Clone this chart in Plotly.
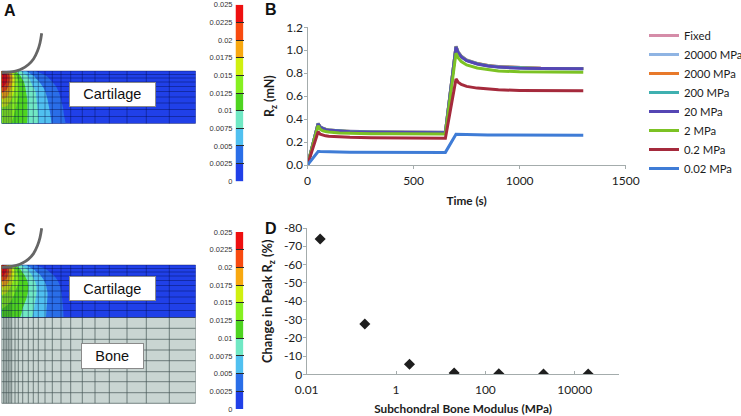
import plotly.graph_objects as go

W, H = 741, 416

# Panels A and C: finite element mesh and strain field
MESH_X = [0, 1.8, 3.5, 5.2, 6.8, 8.5, 10.2, 13.5, 16.8, 21.2, 26.8, 31.8, 36.8, 43.5,
          50.8, 59.5, 69.2, 80.8, 93.5, 107.8, 125.5, 144.8, 167.8, 194.2]
MESH_CARTILAGE = [0, 3.5, 7, 11, 15.5, 20.5, 26, 32, 38.5, 45.5, 52.5]
MESH_BONE = [52.5, 63.3, 74.3, 85, 95.7, 106.7, 116.7, 127.7, 138.3]

FIELD_X = [0, 5, 10, 15, 20, 25, 30, 35, 40, 45, 50, 55, 60, 65, 70, 80, 194.2]
FIELD_DEPTH = [0, 5, 10, 15, 20, 28, 36, 44, 52.5]
FIELD_A = [
    [.024, .020, .015, .0095, .0072, .0048, .0033, .0023, .0018, .0014, .0012, .001, .0008, .0007, .0006, .0004, .0001],
    [.0249, .0235, .0185, .0125, .0095, .0078, .0058, .0042, .0032, .0025, .002, .0016, .0013, .001, .0008, .0005, .0001],
    [.0245, .023, .0185, .0135, .0108, .0088, .0072, .0055, .0043, .0032, .0025, .002, .0016, .0013, .001, .0006, .0001],
    [.0235, .0215, .0175, .0135, .0112, .0095, .0078, .0065, .0052, .004, .0031, .0024, .0018, .0015, .0012, .0007, .0001],
    [.021, .0195, .0165, .0135, .0115, .0098, .0085, .0072, .0058, .0047, .0036, .0028, .002, .0016, .0013, .0008, .0001],
    [.0175, .017, .015, .0128, .0115, .0102, .0088, .0075, .0062, .0052, .0041, .0032, .0024, .0018, .0014, .0009, .0001],
    [.015, .0148, .0138, .0124, .0113, .0102, .009, .0077, .0065, .0055, .0045, .0035, .0027, .002, .0015, .001, .0001],
    [.0138, .0135, .013, .012, .0112, .0102, .0092, .0079, .0067, .0057, .0048, .0037, .0028, .0022, .0016, .001, .0001],
    [.013, .0128, .0125, .0118, .011, .0101, .0092, .008, .0068, .0058, .005, .0038, .003, .0024, .0017, .001, .0001],
]
FIELD_C = [
    [.024, .019, .0145, .0095, .0072, .0048, .0032, .0022, .0017, .0014, .0012, .001, .0008, .0007, .0006, .0004, .0001],
    [.0249, .0225, .0175, .0125, .0097, .008, .006, .0044, .0034, .0026, .002, .0016, .0013, .001, .0008, .0005, .0001],
    [.0235, .0215, .017, .0132, .0112, .0092, .0076, .006, .0047, .0035, .0027, .0022, .0017, .0013, .001, .0006, .0001],
    [.021, .0195, .016, .0132, .0118, .0102, .0084, .0069, .0056, .0043, .0033, .0026, .002, .0015, .0012, .0007, .0001],
    [.0185, .0175, .015, .0128, .0118, .0106, .0088, .0074, .006, .0049, .0038, .003, .0022, .0017, .0013, .0008, .0001],
    [.0155, .015, .0135, .012, .0113, .0104, .0088, .0075, .0063, .0052, .0042, .0033, .0025, .0019, .0014, .0009, .0001],
    [.0135, .0132, .0124, .0115, .0108, .0098, .0083, .0072, .0062, .0051, .0043, .0034, .0026, .002, .0015, .001, .0001],
    [.0125, .012, .0115, .0108, .0102, .0092, .008, .007, .006, .005, .0043, .0034, .0027, .0021, .0016, .001, .0001],
    [.0118, .0115, .011, .0105, .0098, .0088, .0076, .0067, .0058, .0049, .0042, .0034, .0027, .0022, .0017, .001, .0001],
]

# Indenter outline, negative depth is above the cartilage surface
INDENTER_X = [0.2, 8.5, 15, 21, 27, 32, 36, 38.5, 40.2]
INDENTER_DEPTH_A = [1.7, 1.2, -0.2, -2.5, -6.5, -12, -20, -28, -37.7]
INDENTER_DEPTH_C = [2.3, 1.8, 0.4, -1.9, -5.9, -11.4, -19.4, -27.4, -36.7]

# Colour key
LEVELS = [0, .0025, .005, .0075, .01, .0125, .015, .0175, .02, .0225, .025]
LEVEL_LABELS = ["0", "0.0025", "0.005", "0.0075", "0.01", "0.0125", "0.015", "0.0175", "0.02", "0.0225", "0.025"]
BAND_COLORS = ["#2040e8", "#2a6ee8", "#50c0f0", "#70e8c4", "#4ed420",
               "#86f020", "#d0f010", "#f8a810", "#f84a10", "#ee1010"]

# Panel B
TIME = [0, 50, 60, 70, 85, 100, 150, 200, 300, 400, 500, 650, 700, 710, 725, 750, 800, 850, 900, 1000, 1100, 1300]
RZ_FIXED = [0, .362, .332, .321, .312, .306, .297, .293, .289, .287, .286, .285, 1.035, .985, .948, .915, .885, .868, .858, .848, .844, .842]
RZ_20000 = [0, .362, .332, .321, .312, .306, .297, .293, .289, .287, .286, .285, 1.034, .985, .948, .915, .885, .868, .858, .848, .844, .842]
RZ_2000 = [0, .361, .331, .320, .311, .305, .296, .292, .288, .286, .285, .284, 1.033, .984, .947, .914, .884, .867, .857, .847, .843, .841]
RZ_200 = [0, .360, .330, .319, .310, .304, .295, .291, .287, .285, .284, .283, 1.031, .982, .945, .912, .882, .865, .855, .845, .841, .839]
RZ_20 = [0, .358, .328, .317, .308, .302, .293, .289, .285, .283, .282, .281, 1.028, .978, .942, .909, .880, .862, .853, .843, .840, .838]
RZ_2 = [0, .342, .312, .300, .292, .287, .279, .276, .273, .272, .271, .270, .975, .935, .902, .872, .845, .830, .820, .812, .809, .808]
RZ_02 = [0, .290, .268, .260, .254, .250, .244, .241, .238, .236, .235, .234, .750, .722, .702, .685, .670, .660, .655, .650, .648, .647]
RZ_002 = [0, .118, .117, .116, .115, .114, .113, .112, .111, .110, .110, .110, .268, .267, .266, .265, .263, .262, .261, .260, .259, .259]
SERIES = [
    ("Fixed", RZ_FIXED, "#d58ca8"),
    ("20000 MPa", RZ_20000, "#8fb4e3"),
    ("2000 MPa", RZ_2000, "#e8792a"),
    ("200 MPa", RZ_200, "#3fb0b0"),
    ("20 MPa", RZ_20, "#5546b4"),
    ("2 MPa", RZ_2, "#7cc224"),
    ("0.2 MPa", RZ_02, "#a52a3c"),
    ("0.02 MPa", RZ_002, "#3f7cd6"),
]

# Panel D
MODULUS = [0.02, 0.2, 2, 20, 200, 2000, 20000]
PEAK_CHANGE = [-74, -27.5, -5.5, -0.7, -0.3, -0.1, -0.1]

FONT_BOLD = "Liberation Sans"
FONT_CHART = "Lato"
AXIS_GREY = "#a4acac"
TEXT = "#1c1c1c"


def dom_x(left, right):
    return [left / W, right / W]


def dom_y(top, bottom):
    return [1 - bottom / H, 1 - top / H]


# stepped colour scale, one flat step per band
band_scale = []
for i, c in enumerate(BAND_COLORS):
    band_scale.append([i / len(BAND_COLORS), c])
    band_scale.append([(i + 1) / len(BAND_COLORS), c])


def mesh_lines(rows):
    xs, ys = [], []
    for r in rows:
        xs += [MESH_X[0], MESH_X[-1], None]
        ys += [r, r, None]
    for x in MESH_X:
        xs += [x, x, None]
        ys += [rows[0], rows[-1], None]
    return xs, ys


fig = go.Figure()


def add_field(field, depth, xa, ya):
    fig.add_trace(go.Contour(
        x=FIELD_X, y=FIELD_DEPTH, z=field, xaxis=xa, yaxis=ya,
        colorscale=band_scale, zmin=0, zmax=.025, showscale=False, showlegend=False,
        autocontour=False, contours=dict(start=0, end=.025, size=.0025, coloring="fill", showlines=False),
        line=dict(width=0), hoverinfo="skip",
    ))
    xs, ys = mesh_lines(MESH_CARTILAGE)
    fig.add_trace(go.Scatter(
        x=xs, y=ys, xaxis=xa, yaxis=ya, mode="lines", showlegend=False, hoverinfo="skip",
        line=dict(color="rgba(0,10,70,0.5)", width=0.8),
    ))
    fig.add_trace(go.Scatter(
        x=INDENTER_X, y=depth, xaxis=xa, yaxis=ya, mode="lines", showlegend=False, hoverinfo="skip",
        line=dict(color="#666666", width=2.8, shape="spline"),
    ))


def add_key(xa, ya):
    fig.add_trace(go.Heatmap(
        x=[0, 1], y=LEVELS, z=[[(LEVELS[i] + LEVELS[i + 1]) / 2] for i in range(10)],
        xaxis=xa, yaxis=ya, colorscale=band_scale, zmin=0, zmax=.025,
        showscale=False, showlegend=False, hoverinfo="skip",
    ))


# panel A
add_field(FIELD_A, INDENTER_DEPTH_A, "x", "y")
add_key("x2", "y2")

# panel B, stiffest first so the softer curves land on top
for name, values, color in SERIES:
    fig.add_trace(go.Scatter(
        x=TIME, y=values, name=name, xaxis="x3", yaxis="y3", mode="lines",
        line=dict(color=color, width=3),
    ))

# panel C
xs, ys = mesh_lines(MESH_BONE)
fig.add_trace(go.Scatter(
    x=xs, y=ys, xaxis="x4", yaxis="y4", mode="lines", showlegend=False, hoverinfo="skip",
    line=dict(color="rgba(70,85,85,0.7)", width=1),
))
add_field(FIELD_C, INDENTER_DEPTH_C, "x4", "y4")
add_key("x5", "y5")

# panel D
fig.add_trace(go.Scatter(
    x=MODULUS, y=PEAK_CHANGE, xaxis="x6", yaxis="y6", mode="markers", showlegend=False,
    marker=dict(symbol="diamond", size=8.5, color="#1e1e1e"),
))

hidden = dict(visible=False, fixedrange=True)
key_y = dict(
    range=[0, .025], tickvals=LEVELS, ticktext=LEVEL_LABELS, ticks="inside", ticklen=8, tickwidth=1,
    tickcolor="#2a2a2a", tickfont=dict(family=FONT_BOLD, size=7.5, color="#333333"), ticklabelstandoff=2,
    showgrid=False, zeroline=False, showline=False,
)
chart_x = dict(
    showgrid=False, zeroline=False, showline=True, linecolor=AXIS_GREY, linewidth=1,
    tickcolor=AXIS_GREY, ticklen=3, tickfont=dict(family=FONT_CHART, size=12, color=TEXT),
)
chart_y = dict(
    showgrid=False, zeroline=False, showline=True, linecolor=AXIS_GREY, linewidth=1, ticks="outside",
    tickcolor=AXIS_GREY, ticklen=3, tickfont=dict(family=FONT_CHART, size=12, color=TEXT),
)


def title(text, standoff=6, size=11.8):
    return dict(text=f"<b>{text}</b>", font=dict(family=FONT_CHART, size=size, color=TEXT), standoff=standoff)


fig.update_layout(
    width=W, height=H,
    margin=dict(l=0, r=0, t=0, b=0, autoexpand=False),
    paper_bgcolor="white", plot_bgcolor="white",
    font=dict(family=FONT_CHART, color=TEXT),
    xaxis=dict(domain=dom_x(1.5, 195.7), range=[0, 194.2], **hidden),
    yaxis=dict(domain=dom_y(31, 125), range=[54, -40], **hidden),
    xaxis2=dict(domain=dom_x(235.5, 243.3), range=[0, 1], anchor="y2", **hidden),
    yaxis2=dict(domain=dom_y(4.7, 181.3), anchor="x2", **key_y),
    xaxis3=dict(domain=dom_x(307.5, 625.7), range=[0, 1500], anchor="y3", ticks="outside", ticklabelstandoff=2,
                tickvals=[0, 500, 1000, 1500], title=title("Time (s)", 9), **chart_x),
    yaxis3=dict(domain=dom_y(27.3, 165), range=[0, 1.2], anchor="x3", tickvals=[0, .2, .4, .6, .8, 1, 1.2],
                tickformat=".1f", ticklabelstandoff=-2, title=title("R<sub>z</sub> (mN)", 8, 12.5), **chart_y),
    xaxis4=dict(domain=dom_x(1.5, 195.7), range=[0, 194.2], anchor="y4", **hidden),
    yaxis4=dict(domain=dom_y(225, 404.5), range=[139.5, -40], anchor="x4", **hidden),
    xaxis5=dict(domain=dom_x(235.5, 243.3), range=[0, 1], anchor="y5", **hidden),
    yaxis5=dict(domain=dom_y(232, 409), anchor="x5", **key_y),
    xaxis6=dict(domain=dom_x(306.7, 619.4), type="log", range=[-2, 5], anchor="y6", ticks="inside", ticklabelstandoff=4,
                tickvals=[0.01, 1, 100, 10000], ticktext=["0.01", "1", "100", "10000"],
                title=title("Subchondral Bone Modulus (MPa)", 10), **chart_x),
    yaxis6=dict(domain=dom_y(228, 374.3), range=[0, -80], anchor="x6",
                tickvals=[-80, -70, -60, -50, -40, -30, -20, -10, 0],
                ticktext=["-80", "-70", "-60", "-50", "-40", "-30", "-20", "-10", "0"],
                ticklabelstandoff=-2, title=title("Change in Peak R<sub>z</sub> (%)", 8, 12.8), **chart_y),
    legend=dict(x=644 / W, y=1 - 21 / H, xanchor="left", yanchor="top", bgcolor="rgba(0,0,0,0)",
                font=dict(family=FONT_CHART, size=11.3, color=TEXT), itemwidth=30, traceorder="normal"),
    shapes=[dict(type="rect", xref="x4", yref="y4", x0=MESH_X[0], x1=MESH_X[-1],
                 y0=MESH_BONE[0], y1=MESH_BONE[-1], fillcolor="#c9d5d2", line=dict(width=0), layer="below")],
)

# panel letters
for letter, px, py in [("A", 2, 10), ("B", 263, 9), ("C", 2, 229), ("D", 263, 228)]:
    fig.add_annotation(text=f"<b>{letter}</b>", xref="paper", yref="paper", x=px / W, y=1 - py / H,
                       xanchor="left", yanchor="middle", showarrow=False,
                       font=dict(family=FONT_BOLD, size=16, color="#111111"))

# labels on the mesh
for text, x0, x1, y0, y1 in [("Cartilage", 69, 155.7, 82.7, 107.3), ("Cartilage", 69, 155.7, 276, 301.3),
                             ("Bone", 81, 143.5, 343.3, 369)]:
    fig.add_annotation(text=text, xref="paper", yref="paper", x=(x0 + x1) / 2 / W, y=1 - (y0 + y1) / 2 / H,
                       xanchor="center", yanchor="middle", showarrow=False, width=x1 - x0 - 2, height=y1 - y0 - 2,
                       bgcolor="white", bordercolor="#8a8a8a", borderwidth=1, borderpad=0,
                       font=dict(family=FONT_BOLD, size=14.5, color="#111111"))

fig.write_html("out.html", config=dict(displayModeBar=False), post_script="document.body.style.margin='0';")
